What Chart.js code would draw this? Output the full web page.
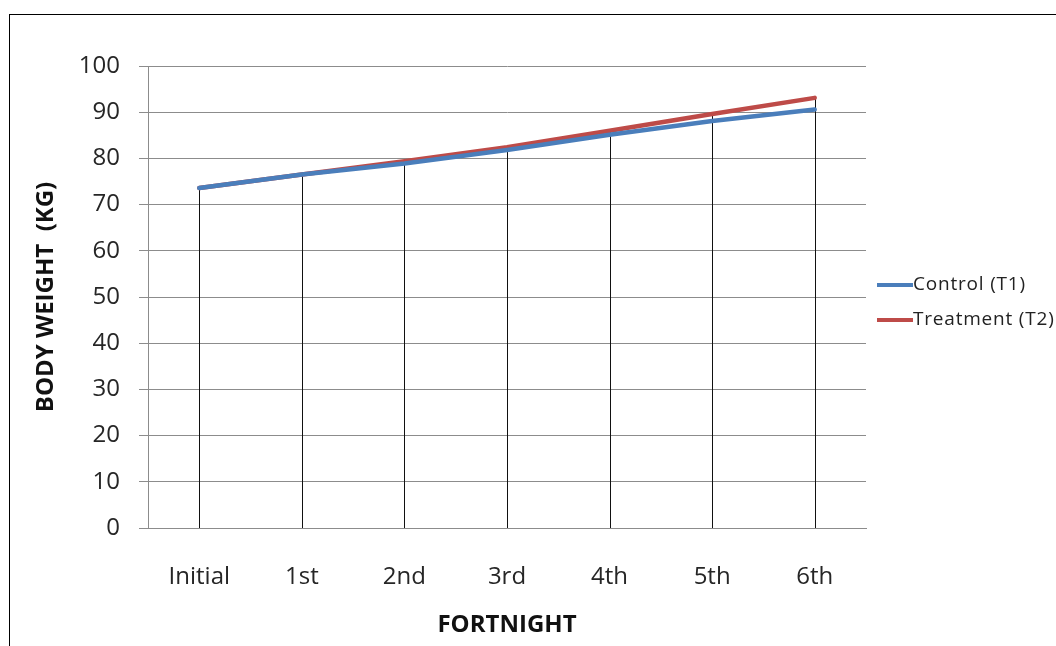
<!DOCTYPE html>
<html>
<head>
<meta charset="utf-8">
<title>Body weight per fortnight</title>
<script src="https://cdn.jsdelivr.net/npm/chart.js@4.4.1/dist/chart.umd.min.js"></script>
<style>
  html, body { margin: 0; padding: 0; background: #fff; overflow: hidden; }
  .frame {
    position: absolute; left: 9px; top: 14px;
    width: 1200px; height: 800px;
    border: 1px solid #000;
  }
  .wrap { position: absolute; left: 0; top: 0; width: 1056px; height: 646px; }
</style>
</head>
<body>
<div class="frame"></div>
<div class="wrap"><canvas id="weightChart"></canvas></div>
<script>
// fortnightly body weight (kg)
const fortnights = ['Initial', '1st', '2nd', '3rd', '4th', '5th', '6th'];
const controlT1 = [73.6, 76.5, 78.9, 81.8, 85.1, 88.1, 90.6];
const treatmentT2 = [73.6, 76.5, 79.4, 82.4, 86.0, 89.6, 93.1];
const yTicks = [0, 10, 20, 30, 40, 50, 60, 70, 80, 90, 100];

const gridGrey = '#8c8c8c';
const font = "'Open Sans', sans-serif";

// vertical drop lines from the highest series value down to the axis
const dropLines = {
  id: 'dropLines',
  beforeDatasetsDraw(chart) {
    const { ctx, scales: { x, y } } = chart;
    ctx.save();
    ctx.strokeStyle = '#111';
    ctx.lineWidth = 1;
    fortnights.forEach((f, i) => {
      const top = Math.max(controlT1[i], treatmentT2[i]);
      const px = Math.round(x.getPixelForValue(i)) + 0.5;
      ctx.beginPath();
      ctx.moveTo(px, y.getPixelForValue(top));
      ctx.lineTo(px, y.getPixelForValue(0));
      ctx.stroke();
    });
    ctx.restore();
  }
};

// legend drawn to the right of the plot: line sample followed by the label
const sideLegend = {
  id: 'sideLegend',
  afterDraw(chart) {
    const { ctx, chartArea } = chart;
    const x0 = chartArea.right + 11;
    ctx.save();
    ctx.font = "19px " + font;
    ctx.letterSpacing = '0.8px';
    ctx.textBaseline = 'middle';
    ctx.fillStyle = '#222';
    chart.data.datasets.forEach((ds, i) => {
      const yc = 285 + i * 35;
      ctx.strokeStyle = ds.borderColor;
      ctx.lineWidth = 4;
      ctx.beginPath();
      ctx.moveTo(x0, yc);
      ctx.lineTo(x0 + 36, yc);
      ctx.stroke();
      ctx.fillText(ds.label, x0 + 36, yc);
    });
    ctx.restore();
  }
};

new Chart(document.getElementById('weightChart'), {
  type: 'line',
  data: {
    labels: fortnights,
    datasets: [
      {
        label: 'Control (T1)',
        data: controlT1,
        borderColor: '#4a7ebb',
        borderWidth: 4.5,
        pointRadius: 0,
        tension: 0,
        borderCapStyle: 'round'
      },
      {
        label: 'Treatment (T2)',
        data: treatmentT2,
        borderColor: '#be4b48',
        borderWidth: 4.5,
        pointRadius: 0,
        tension: 0,
        borderCapStyle: 'round'
      }
    ]
  },
  options: {
    responsive: true,
    maintainAspectRatio: false,
    animation: false,
    layout: { padding: { top: 66, right: 190, bottom: 0, left: 0 } },
    plugins: {
      legend: { display: false },
      tooltip: { enabled: false }
    },
    scales: {
      x: {
        offset: true,
        afterFit: (s) => { s.height = 118; },
        grid: { display: false },
        border: { display: true, color: gridGrey, width: 1 },
        ticks: { color: '#262626', font: { family: font, size: 24 }, padding: 27, maxRotation: 0 },
        title: {
          display: true,
          text: 'FORTNIGHT',
          color: '#111',
          font: { family: font, size: 24, weight: 'bold' },
          padding: { top: 0, bottom: 6 }
        }
      },
      y: {
        min: 0,
        max: 100,
        afterFit: (s) => { s.width = 148; },
        afterBuildTicks: (s) => { s.ticks = yTicks.map(v => ({ value: v })); },
        grid: { color: gridGrey, tickLength: 9, tickColor: gridGrey },
        border: { color: gridGrey },
        ticks: { color: '#262626', font: { family: font, size: 24 }, padding: 19 },
        title: {
          display: true,
          text: 'BODY WEIGHT  (KG)',
          color: '#111',
          font: { family: font, size: 24, weight: 'bold' },
          padding: { top: 32, bottom: 0 }
        }
      }
    }
  },
  plugins: [dropLines, sideLegend]
});
</script>
</body>
</html>
